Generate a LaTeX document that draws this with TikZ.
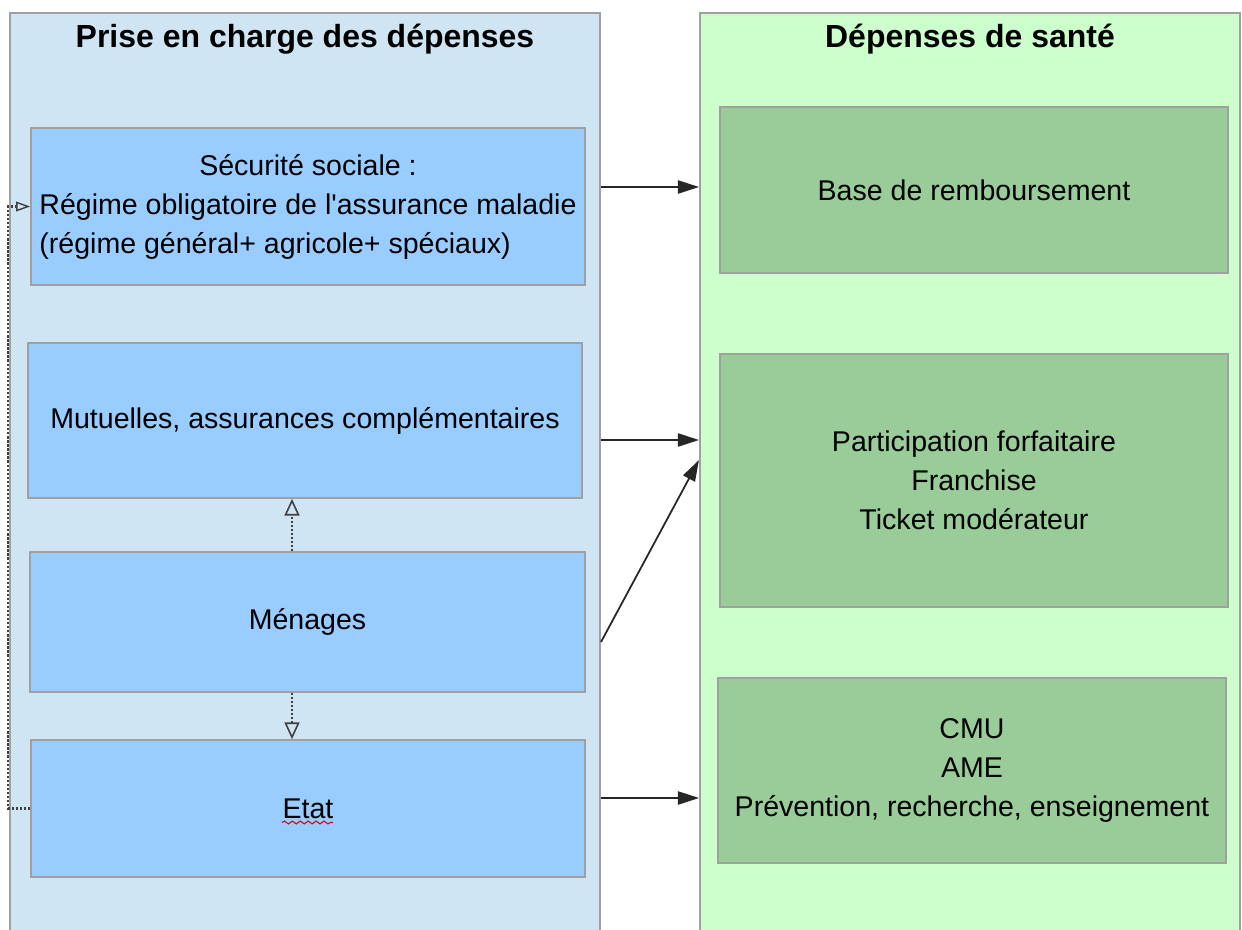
\documentclass[tikz,border=0pt]{standalone}
\usepackage{fontspec}
\setmainfont{Liberation Sans}
\usetikzlibrary{arrows.meta, decorations.pathmorphing}
\definecolor{panelblue}{HTML}{CFE5F3}
\definecolor{payerblue}{HTML}{99CCFF}
\definecolor{panelgreen}{HTML}{CCFFCC}
\definecolor{costgreen}{HTML}{99CC99}
\definecolor{edgegray}{HTML}{A0A0A0}
\tikzset{
  panel/.style={draw=edgegray, line width=1.2pt, rectangle, minimum height=18.6cm, inner sep=0pt},
  paneltitle/.style={font=\fontsize{18.2}{22}\selectfont\bfseries, inner sep=0pt, anchor=base},
  payer/.style={draw=edgegray, line width=1pt, rectangle, fill=payerblue, align=center, inner sep=0pt},
  cost/.style={draw=edgegray, line width=1pt, rectangle, fill=costgreen, align=center, inner sep=0pt},
  flow/.style={draw=black!85, line width=1pt, -{Triangle[length=12pt, width=7.5pt]}},
  link/.style={draw=black!75, line width=1.3pt, densely dotted, -{Triangle[open, length=9.5pt, width=8.5pt, line width=0.9pt]}},
  backlink/.style={draw=black!75, line width=1.3pt, densely dotted, -{Triangle[open, length=8pt, width=5.5pt, line width=0.8pt]}}
}

\begin{document}
\begin{tikzpicture}[x=0.02cm, y=-0.02cm, font=\fontsize{16.25}{22.2}\selectfont]
        \useasboundingbox (0,0) rectangle (1242,930);
        \clip (0,0) rectangle (1242,930);

        % Panels
        \node[panel, fill=panelblue, minimum width=11.8cm] (prise) at (305,478) {};
        \node[panel, fill=panelgreen, minimum width=10.8cm] (sante) at (970,478) {};
        \node[paneltitle] (tprise) at (305,47) {Prise en charge des dépenses};
        \node[paneltitle] (tsante) at (970,47) {Dépenses de santé};

        % Nodes
        \node[payer, minimum width=11.08cm, minimum height=3.14cm] (secu) at (308,206.5) {\begin{tabular}{@{}l@{}}\multicolumn{1}{@{}c@{}}{Sécurité sociale :}\\Régime obligatoire de l\textquotesingle assurance maladie\\(régime général+ agricole+ spéciaux)\end{tabular}};
        \node[payer, minimum width=11.08cm, minimum height=3.1cm] (mutu) at (305,420.5) {Mutuelles, assurances complémentaires};
        \node[payer, minimum width=11.1cm, minimum height=2.8cm] (menages) at (307.5,622) {Ménages};
        \node[payer, minimum width=11.08cm, minimum height=2.74cm] (etat) at (308,808.5) {Etat};
        \node[cost, minimum width=10.16cm, minimum height=3.32cm] (base) at (974,190) {Base de remboursement};
        \node[cost, minimum width=10.16cm, minimum height=5.06cm] (partic) at (974,480.5) {Participation forfaitaire\\Franchise\\Ticket modérateur};
        \node[cost, minimum width=10.16cm, minimum height=3.7cm] (cmu) at (972,770.5) {CMU\\AME\\Prévention, recherche, enseignement};

        % Spell-check mark
        \draw[red!85!black, line width=0.6pt, decorate, decoration={snake, segment length=4.5pt, amplitude=0.8pt}] ([shift={(-26,14)}]etat.center) -- ([shift={(25,14)}]etat.center);

        % Arrows
        \coordinate (y1) at (0,187);
        \coordinate (y2) at (0,440);
        \coordinate (y3) at (0,642);
        \coordinate (y4) at (0,798);
        \coordinate (xm) at (292,0);
        \draw[flow] (prise.east |- y1) -- (sante.west |- y1);
        \draw[flow] (prise.east |- y2) -- (sante.west |- y2);
        \draw[flow] (prise.east |- y3) -- ([yshift=-0.4cm]sante.west |- y2);
        \draw[flow] (prise.east |- y4) -- (sante.west |- y4);
        \draw[link] (menages.north -| xm) -- (mutu.south -| xm);
        \draw[link] (menages.south -| xm) -- (etat.north -| xm);
        \draw[backlink] (etat.west) -- ++(-22,0) |- (secu.west);
\end{tikzpicture}
\end{document}
